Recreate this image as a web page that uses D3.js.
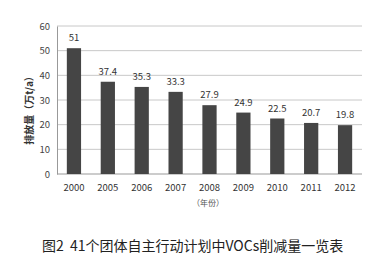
<!DOCTYPE html>
<html>
<head>
<meta charset="utf-8">
<script src="https://cdn.jsdelivr.net/npm/d3@7"></script>
<style>
  body { margin: 0; background: #fff; }
  text { font-family: "Noto Sans CJK SC", "Open Sans", sans-serif; }
</style>
</head>
<body>
<div id="chart"></div>
<script>
// data
const years = ["2000", "2005", "2006", "2007", "2008", "2009", "2010", "2011", "2012"];
const emissions = [51, 37.4, 35.3, 33.3, 27.9, 24.9, 22.5, 20.7, 19.8];
const yTicks = [0, 10, 20, 30, 40, 50, 60];

// set the dimensions and margins of the graph
const margin = { top: 26, right: 21, bottom: 88, left: 57 },
    width = 383 - margin.left - margin.right,
    height = 262 - margin.top - margin.bottom;

const svg = d3.select("#chart")
    .append("svg")
    .attr("width", 383)
    .attr("height", 262);

const g = svg.append("g")
    .attr("transform", `translate(${margin.left},${margin.top})`);

const x = d3.scaleBand()
    .domain(years)
    .range([0, width])
    .paddingInner(0.58)
    .paddingOuter(0.29);

const y = d3.scaleLinear()
    .domain([0, 60])
    .range([height, 0]);

// gridlines
g.append("g")
    .selectAll("line")
    .data(yTicks)
    .enter().append("line")
    .attr("x1", 0)
    .attr("x2", width)
    .attr("y1", d => y(d))
    .attr("y2", d => y(d))
    .style("stroke", d => d === 0 ? "#999" : "#c8c8c8")
    .style("stroke-width", 1);

// y axis
const yAxis = g.append("g")
    .call(d3.axisLeft(y).tickValues(yTicks).tickSize(0).tickPadding(7));
yAxis.select(".domain").style("stroke", "#999");
yAxis.selectAll("text")
    .style("font-size", "9.5px")
    .style("fill", "#444");

// x axis
const xAxis = g.append("g")
    .attr("transform", `translate(0,${height})`)
    .call(d3.axisBottom(x).tickSize(0).tickPadding(10));
xAxis.select(".domain").remove();
xAxis.selectAll("text")
    .style("font-size", "9.5px")
    .style("fill", "#333");

// bars
g.selectAll(".bar")
    .data(emissions)
    .enter().append("rect")
    .attr("class", "bar")
    .attr("x", (d, i) => x(years[i]))
    .attr("y", d => y(d))
    .attr("width", x.bandwidth())
    .attr("height", d => height - y(d))
    .attr("fill", "#454545");

// value labels
g.selectAll(".val")
    .data(emissions)
    .enter().append("text")
    .attr("class", "val")
    .attr("x", (d, i) => x(years[i]) + x.bandwidth() / 2)
    .attr("y", d => y(d) - 7)
    .attr("text-anchor", "middle")
    .style("font-size", "9.5px")
    .style("fill", "#333")
    .text(d => d);

// axis titles
svg.append("text")
    .attr("transform", "translate(33,108) rotate(-90)")
    .attr("text-anchor", "middle")
    .style("font-size", "10px")
    .style("font-weight", "bold")
    .style("fill", "#333")
    .text("排放量（万t/a）");

svg.append("text")
    .attr("x", 208)
    .attr("y", 206)
    .attr("text-anchor", "middle")
    .style("font-size", "8px")
    .style("fill", "#555")
    .text("（年份）");

// caption
svg.append("text")
    .attr("x", 42)
    .attr("y", 251)
    .style("font-size", "14px")
    .style("fill", "#222")
    .style("word-spacing", "3px")
    .text("图2 41个团体自主行动计划中VOCs削减量一览表");
</script>
</body>
</html>
